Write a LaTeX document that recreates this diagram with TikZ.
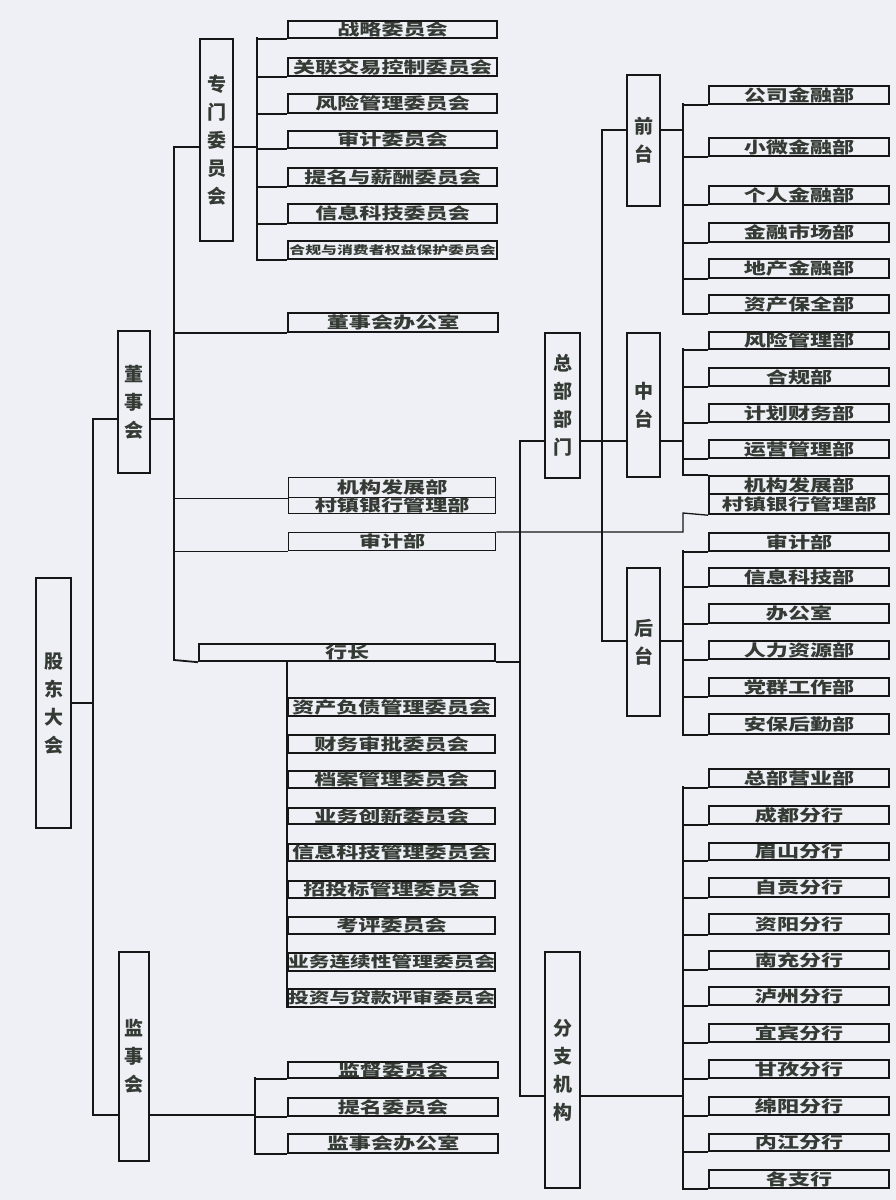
\documentclass[tikz,border=0pt]{standalone}
\usepackage{fontspec}
\newfontfamily\cjk[FakeStretch=1.38]{Noto Sans CJK SC}
\newfontfamily\cjkv{Noto Sans CJK SC}
\definecolor{bg}{RGB}{239,240,246}
\definecolor{ink}{RGB}{22,22,22}
\definecolor{txt}{RGB}{52,58,52}
\newcommand\mkbox[7][]{\node[sbox,#1,anchor=north west,minimum width={#5-#3},minimum height={#6-#4}] (#2) at (#3,#4) {#7};}
\tikzset{
  sbox/.style={draw=ink, line width=2.2pt, inner sep=0pt, text=txt, font=\cjk\bfseries\fontsize{16}{16}\selectfont},
  thinbox/.style={line width=1.3pt},
  vbox/.style={align=center, font=\cjkv\bfseries\fontsize{19}{28}\selectfont},
  conn/.style={draw=ink, line width=1.8pt},
  thinconn/.style={draw=ink, line width=1.3pt}
}
\begin{document}
\begin{tikzpicture}[x=1pt,y=-1pt]
\fill[bg] (0,0) rectangle (896,1200);
\useasboundingbox (0,0) rectangle (896,1200);

% big vertical boxes
\mkbox[vbox]{gd}{35}{577}{70}{827}{股\\东\\大\\会}
\mkbox[vbox]{dsh}{117}{330}{149}{472}{董\\事\\会}
\mkbox[vbox]{zm}{199}{38}{232}{240}{专\\门\\委\\员\\会}
\mkbox[vbox]{jsh}{118}{951}{148}{1160}{监\\事\\会}
\mkbox[vbox]{zb}{544}{332}{579}{477}{总\\部\\部\\门}
\mkbox[vbox]{qt}{626}{74}{659}{205}{前\\台}
\mkbox[vbox]{zt}{626}{332}{659}{476}{中\\台}
\mkbox[vbox]{ht}{626}{567}{659}{715}{后\\台}
\mkbox[vbox]{fz}{544}{951}{579}{1187}{分\\支\\机\\构}

% special committees
\mkbox{z1}{287}{20}{496}{37}{战略委员会}
\mkbox{z2}{287}{57}{496}{75}{关联交易控制委员会}
\mkbox{z3}{287}{93}{496}{112}{风险管理委员会}
\mkbox{z4}{287}{130}{496}{147}{审计委员会}
\mkbox{z5}{287}{167}{496}{185}{提名与薪酬委员会}
\mkbox{z6}{287}{203}{496}{222}{信息科技委员会}
\mkbox[font=\cjk\bfseries\fontsize{11.5}{12}\selectfont]{z7}{287}{240}{496}{258}{合规与消费者权益保护委员会}

\mkbox{dsb}{287}{312}{497}{331}{董事会办公室}
\mkbox[thinbox]{jgL}{288}{477}{495}{497}{机构发展部}
\mkbox[thinbox]{czL}{288}{497}{495}{513}{村镇银行管理部}
\mkbox[thinbox]{sjL}{288}{532}{495}{550}{审计部}
\mkbox{hz}{198}{643}{494}{660}{行长}

% president committees
\mkbox{h1}{287}{697}{494}{715}{资产负债管理委员会}
\mkbox{h2}{287}{734}{494}{752}{财务审批委员会}
\mkbox{h3}{287}{770}{494}{787}{档案管理委员会}
\mkbox{h4}{287}{807}{494}{823}{业务创新委员会}
\mkbox{h5}{287}{843}{494}{860}{信息科技管理委员会}
\mkbox{h6}{287}{880}{494}{897}{招投标管理委员会}
\mkbox{h7}{287}{916}{494}{933}{考评委员会}
\mkbox[font=\cjk\bfseries\fontsize{15}{15}\selectfont]{h8}{287}{952}{494}{970}{业务连续性管理委员会}
\mkbox[font=\cjk\bfseries\fontsize{15}{15}\selectfont]{h9}{287}{988}{494}{1006}{投资与贷款评审委员会}

% supervisory
\mkbox{jd}{287}{1061}{497}{1077}{监督委员会}
\mkbox{tm}{287}{1097}{497}{1115}{提名委员会}
\mkbox{jb}{287}{1133}{497}{1152}{监事会办公室}

% front
\mkbox{q1}{708}{85}{888}{103}{公司金融部}
\mkbox{q2}{708}{137}{888}{155}{小微金融部}
\mkbox{q3}{708}{185}{888}{203}{个人金融部}
\mkbox{q4}{708}{222}{888}{241}{金融市场部}
\mkbox{q5}{708}{258}{888}{277}{地产金融部}
\mkbox{q6}{708}{294}{888}{312}{资产保全部}
% middle
\mkbox{m1}{708}{331}{888}{348}{风险管理部}
\mkbox{m2}{708}{367}{888}{385}{合规部}
\mkbox{m3}{708}{403}{888}{421}{计划财务部}
\mkbox{m4}{708}{439}{888}{457}{运营管理部}
\mkbox{jgR}{708}{475}{888}{493}{机构发展部}
\mkbox{czR}{708}{493}{888}{513}{村镇银行管理部}
% back
\mkbox{sjR}{708}{532}{888}{550}{审计部}
\mkbox{b1}{708}{567}{888}{585}{信息科技部}
\mkbox{b2}{708}{603}{888}{622}{办公室}
\mkbox{b3}{708}{640}{888}{658}{人力资源部}
\mkbox{b4}{708}{677}{888}{695}{党群工作部}
\mkbox{b5}{708}{713}{888}{733}{安保后勤部}
% branches
\mkbox{f1}{708}{768}{888}{786}{总部营业部}
\mkbox{f2}{708}{805}{888}{823}{成都分行}
\mkbox{f3}{708}{842}{888}{859}{眉山分行}
\mkbox{f4}{708}{877}{888}{896}{自贡分行}
\mkbox{f5}{708}{913}{888}{933}{资阳分行}
\mkbox{f6}{708}{950}{888}{968}{南充分行}
\mkbox{f7}{708}{986}{888}{1004}{泸州分行}
\mkbox{f8}{708}{1023}{888}{1041}{宜宾分行}
\mkbox{f9}{708}{1059}{888}{1077}{甘孜分行}
\mkbox{f10}{708}{1096}{888}{1114}{绵阳分行}
\mkbox{f11}{708}{1133}{888}{1150}{内江分行}
\mkbox{f12}{708}{1169}{888}{1187}{各支行}

% spine coordinates
\coordinate (Lt) at (93,419);
\coordinate (Lb) at (93,1115);
\coordinate (Bt) at (174,147);
\coordinate (Bm) at (174,419);
\coordinate (Bb) at (174,660);
\coordinate (S1) at (257,37);
\coordinate (H) at (287,660);
\coordinate (J) at (255,1077);
\coordinate (Rt) at (520,441);
\coordinate (Rb) at (520,1096);
\coordinate (Qt) at (602,130);
\coordinate (Qm) at (602,441);
\coordinate (Qb) at (602,641);
\coordinate (F) at (683,103);
\coordinate (M) at (683,348);
\coordinate (Bk) at (683,550);
\coordinate (K) at (683,513);
\coordinate (Br) at (683,786);

% shareholders
\draw[conn] (dsh.west |- Lt) -- (Lt) -- (Lb) -- (jsh.west |- Lb);
\draw[conn] (gd.east) -- (gd.east -| Lt);
% board
\draw[conn] (dsh.east |- Bm) -- (Bm);
\draw[conn] (zm.west |- Bt) -- (Bt) -- (Bb) -- (hz.south west);
\draw[conn] (zm.east |- Bt) -- (S1 |- Bt);
\foreach \c in {z1,z2,z3,z4,z5,z6,z7} \draw[conn] (S1) |- (\c.south west);
\draw[conn] (dsb.south west) -- (dsb.south west -| Bt);
\draw[thinconn] (jgL.south west) -- (jgL.south west -| Bt);
\draw[thinconn] (sjL.south west) -- (sjL.south west -| Bt);
\draw[thinconn] (sjL.north east) -- (sjL.north east -| K) -- (K) -- (czR.south west);
% president
\foreach \c in {h1,h2,h3,h4,h5,h6,h7,h8,h9} \draw[conn] (H) |- (\c.south west);
\draw[conn] (hz.south east) -- (hz.south east -| Rt);
% supervisory
\draw[conn] (jsh.east |- Lb) -- (J |- Lb);
\foreach \c in {jd,tm,jb} \draw[conn] (J) |- (\c.south west);
% HQ / branches
\draw[conn] (zb.west |- Rt) -- (Rt) -- (Rb) -- (fz.west |- Rb);
\draw[conn] (zb.east |- Qm) -- (Qm);
\draw[conn] (qt.west |- Qt) -- (Qt) -- (Qb) -- (ht.west |- Qb);
\draw[conn] (Qm) -- (zt.west |- Qm);
% front
\draw[conn] (qt.east |- Qt) -- (F |- Qt);
\foreach \c in {q1,q2,q3,q4,q5,q6} \draw[conn] (F) |- (\c.south west);
% middle
\draw[conn] (zt.east |- Qm) -- (M |- Qm);
\foreach \c in {m1,m2,m3,m4} \draw[conn] (M) |- (\c.south west);
\draw[conn] (M) |- (jgR.north west);
% back
\draw[conn] (ht.east |- Qb) -- (Bk |- Qb);
\foreach \c in {sjR,b1,b2,b3,b4,b5} \draw[conn] (Bk) |- (\c.south west);
% branches
\draw[conn] (fz.east |- Rb) -- (Br |- Rb);
\foreach \c in {f1,f2,f3,f4,f5,f6,f7,f8,f9,f10,f11,f12} \draw[conn] (Br) |- (\c.south west);
\end{tikzpicture}
\end{document}
